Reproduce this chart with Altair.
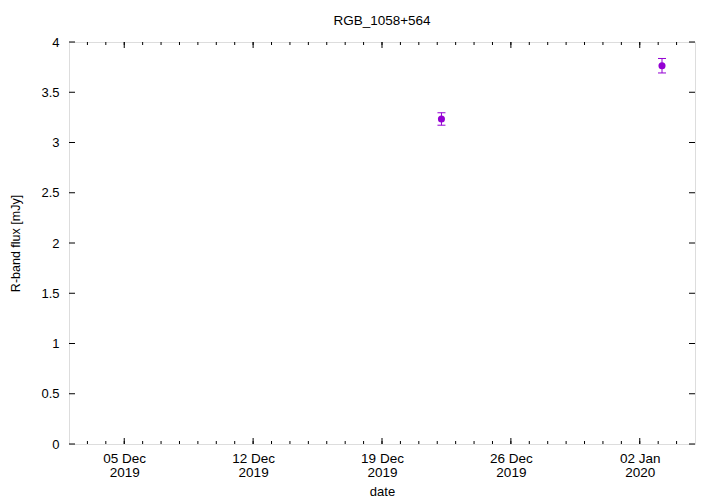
import altair as alt
import pandas as pd

# data
obs_dates = ["2019-12-22T05:30:00Z", "2020-01-03T05:00:00Z"]
flux = [3.234, 3.764]
flux_err = [0.062, 0.072]

major_x_ticks = ["2019-12-05T00:00:00Z", "2019-12-12T00:00:00Z", "2019-12-19T00:00:00Z",
                 "2019-12-26T00:00:00Z", "2020-01-02T00:00:00Z"]
minor_x_ticks = [d.strftime("%Y-%m-%dT00:00:00Z") for d in pd.date_range("2019-12-03", "2020-01-04", freq="D")]
y_ticks = [0, 0.5, 1, 1.5, 2, 2.5, 3, 3.5, 4]

W, H = 626, 402
FONT = "Liberation Sans"
COLOR = "#9400d3"

df = pd.DataFrame({
    "date": obs_dates,
    "flux": flux,
    "lo": [f - e for f, e in zip(flux, flux_err)],
    "hi": [f + e for f, e in zip(flux, flux_err)],
})

xscale = alt.Scale(type="utc",
                   domain=[alt.DateTime(year=2019, month=12, date=2, utc=True),
                           alt.DateTime(year=2020, month=1, date=5, utc=True)])
yscale = alt.Scale(domain=[0, 4], nice=False)

xaxis = alt.Axis(values=[alt.DateTime(year=int(d[:4]), month=int(d[5:7]), date=int(d[8:10]), utc=True) for d in major_x_ticks],
                 labelExpr="[utcFormat(datum.value, '%d %b'), utcFormat(datum.value, '%Y')]",
                 tickSize=0, domain=False, grid=False, labelPadding=7,
                 labelFontSize=13.5, labelFont=FONT, labelColor="black", labelLineHeight=14,
                 title="date", titleFont=FONT, titleFontSize=13, titleFontWeight="normal",
                 titleColor="black", titlePadding=7)
yaxis = alt.Axis(values=y_ticks, format="~g", tickSize=0, domain=False, grid=False,
                 labelPadding=10, labelFontSize=13, labelFont=FONT, labelColor="black",
                 title="R-band flux [mJy]", titleFont=FONT, titleFontSize=12.5,
                 titleFontWeight="normal", titleColor="black", titlePadding=18)

base = alt.Chart(df)
points = base.mark_point(filled=True, shape="circle", size=50, opacity=1, color=COLOR).encode(
    x=alt.X("date:T", scale=xscale, axis=xaxis),
    y=alt.Y("flux:Q", scale=yscale, axis=yaxis),
)
bars = base.mark_rule(color=COLOR, strokeWidth=1).encode(
    x="date:T", y="lo:Q", y2="hi:Q")
cap_lo = base.mark_rule(color=COLOR, strokeWidth=1, xOffset=-4, x2Offset=4).encode(
    x="date:T", x2="date:T", y="lo:Q")
cap_hi = base.mark_rule(color=COLOR, strokeWidth=1, xOffset=-4, x2Offset=4).encode(
    x="date:T", x2="date:T", y="hi:Q")

maj = alt.Chart(pd.DataFrame({"d": major_x_ticks}))
mnr = alt.Chart(pd.DataFrame({"d": minor_x_ticks}))
yt = alt.Chart(pd.DataFrame({"v": y_ticks}))

tick_style = dict(color="black", strokeWidth=1)
ticks = [
    maj.mark_rule(**tick_style).encode(x="d:T", y=alt.value(H), y2=alt.value(H - 6)),
    maj.mark_rule(**tick_style).encode(x="d:T", y=alt.value(0), y2=alt.value(6)),
    mnr.mark_rule(**tick_style).encode(x="d:T", y=alt.value(H), y2=alt.value(H - 3)),
    mnr.mark_rule(**tick_style).encode(x="d:T", y=alt.value(0), y2=alt.value(3)),
    yt.mark_rule(**tick_style).encode(y="v:Q", x=alt.value(0), x2=alt.value(6)),
    yt.mark_rule(**tick_style).encode(y="v:Q", x=alt.value(W), x2=alt.value(W - 6)),
]

chart = alt.layer(*ticks, bars, cap_lo, cap_hi, points).properties(
    width=W, height=H,
    autosize=alt.AutoSizeParams(type="none"),
    padding={"left": 61, "top": 34, "right": 10, "bottom": 60},
    title=alt.Title("RGB_1058+564", font=FONT, fontSize=13.5, fontWeight="normal",
                    color="black", anchor="middle", offset=9),
).configure_view(stroke="black", strokeWidth=1.2).configure(background="white")

chart.save("out.html", embed_options={"renderer": "svg", "actions": False})
